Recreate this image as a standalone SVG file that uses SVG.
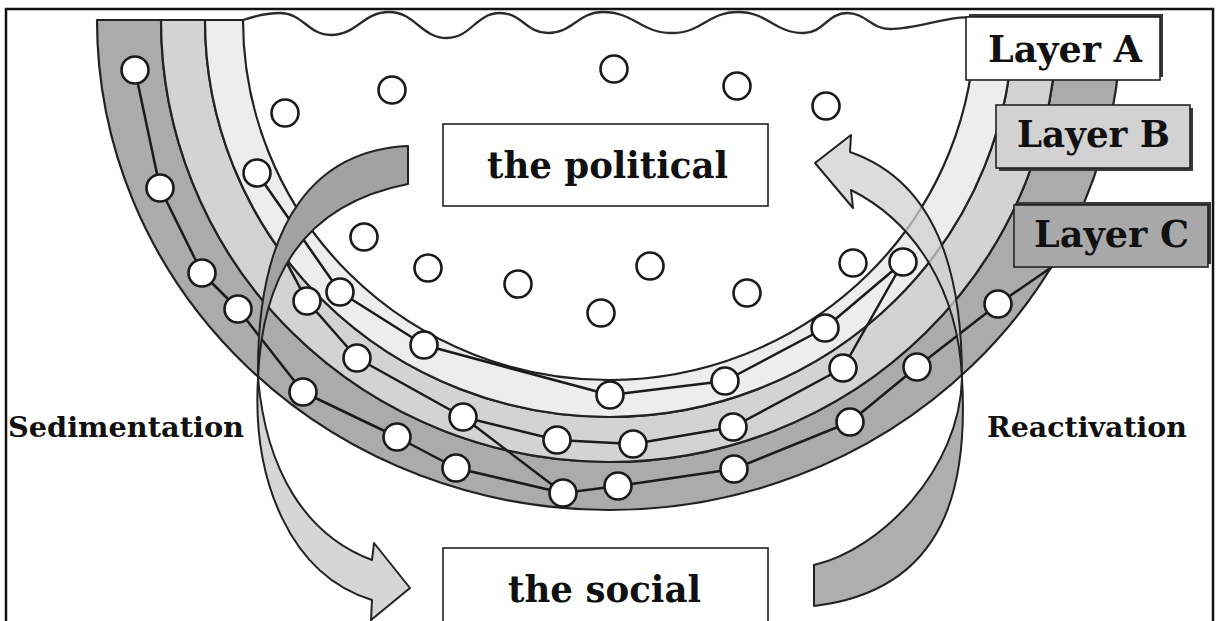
<svg xmlns="http://www.w3.org/2000/svg" width="1219" height="621" viewBox="0 0 1219 621">
<style>
.band{stroke:#222;stroke-width:2.2;stroke-linejoin:round}
.chain{fill:none;stroke:#1a1a1a;stroke-width:2.5;stroke-linejoin:round}
.dot{fill:#fff;stroke:#1a1a1a;stroke-width:2.6}
.arrow{stroke:#222;stroke-width:2;stroke-linejoin:round}
.box{stroke:#222;stroke-width:1.6}
.shadow{fill:#3a3a3a}
.lbl{font-family:"DejaVu Serif","Liberation Serif",serif;font-weight:bold;fill:#111}
</style>
<rect x="0" y="0" width="1219" height="621" fill="#fff"/>
<rect x="6" y="9" width="1207" height="630" fill="none" stroke="#111" stroke-width="2.5"/>

<g id="bands">
<path id="layerC-band" class="band" fill="#ababab" d="M97,20 A512,490 0 0 0 1121,20 L1057,20 A448,442 0 0 1 161,20 Z"/>
<path id="layerB-band" class="band" fill="#d3d3d3" d="M161,20 A448,442 0 0 0 1057,20 L1013,20 A404,397 0 0 1 205,20 Z"/>
<path id="layerA-band" class="band" fill="#ededed" d="M205,20 A404,397 0 0 0 1013,20 L975,20 A366,360 0 0 1 243,20 Z"/>
</g>

<g id="surface">
<path fill="none" stroke="#2a2a2a" stroke-width="2.3" d="M243,20 C258,15 268,13 280,13 C303,13 308,35 331,35 C357,35 363,12 389,12 C415,12 421,38 447,38 C471,38 476,13 500,13 C522,13 526,33 548,33 C573,33 578,12 603,12 C634,12 641,33 672,33 C702,33 708,12 738,12 C768,12 774,33 804,33 C823,33 828,13 847,13 C866,13 871,29 890,29 C920,29 950,14 975,18"/>
</g>

<g id="chains">
<polyline class="chain" points="135,70 160,188 202,273 238,309 303,392 397,437 456,468 563,493 618,486 734,469 850,422 917,367 998,304 1065,258"/>
<polyline class="chain" points="280,250 307,301 357,358 463,417 557,440 633,444 733,427 843,368 903,262"/>
<polyline class="chain" points="257,173 340,292 424,345 610,395 725,381 825,328 903,262"/>
<line class="chain" x1="463" y1="417" x2="563" y2="493"/>
</g>

<g id="connectors">
<path id="sedimentation-upper" class="arrow" fill="#a2a2a2" d="M408,146 C320,150 256,215 258,378 C262,280 300,205 408,184 Z"/>
<path id="sedimentation-lower" class="arrow" fill="#cfcfcf" fill-opacity="0.85" d="M258,378 C266,470 305,535 372,560 L374,543 L410,588 L371,620 L372,600 C290,575 252,480 258,378 Z"/>
<path id="reactivation-lower" class="arrow" fill="#a0a0a0" fill-opacity="0.85" d="M814,565 C880,550 960,470 962,378 C968,480 950,590 814,606 Z"/>
<path id="reactivation-upper" class="arrow" fill="#d0d0d0" fill-opacity="0.75" d="M962,378 C962,290 945,185 850,152 L851,135 L815,163 L853,208 L851,190 C915,222 958,290 962,378 Z"/>
</g>

<g id="elements">
<circle class="dot" cx="285" cy="113" r="13.5"/>
<circle class="dot" cx="392" cy="90" r="13.5"/>
<circle class="dot" cx="614" cy="69" r="13.5"/>
<circle class="dot" cx="737" cy="86" r="13.5"/>
<circle class="dot" cx="826" cy="106" r="13.5"/>
<circle class="dot" cx="364" cy="237" r="13.5"/>
<circle class="dot" cx="428" cy="268" r="13.5"/>
<circle class="dot" cx="518" cy="284" r="13.5"/>
<circle class="dot" cx="650" cy="266" r="13.5"/>
<circle class="dot" cx="601" cy="313" r="13.5"/>
<circle class="dot" cx="747" cy="293" r="13.5"/>
<circle class="dot" cx="853" cy="263" r="13.5"/>

<circle class="dot" cx="135" cy="70" r="13.5"/>
<circle class="dot" cx="160" cy="188" r="13.5"/>
<circle class="dot" cx="202" cy="273" r="13.5"/>
<circle class="dot" cx="238" cy="309" r="13.5"/>
<circle class="dot" cx="303" cy="392" r="13.5"/>
<circle class="dot" cx="397" cy="437" r="13.5"/>
<circle class="dot" cx="456" cy="468" r="13.5"/>
<circle class="dot" cx="563" cy="493" r="13.5"/>
<circle class="dot" cx="618" cy="486" r="13.5"/>
<circle class="dot" cx="734" cy="469" r="13.5"/>
<circle class="dot" cx="850" cy="422" r="13.5"/>
<circle class="dot" cx="917" cy="367" r="13.5"/>
<circle class="dot" cx="998" cy="304" r="13.5"/>

<circle class="dot" cx="307" cy="301" r="13.5"/>
<circle class="dot" cx="357" cy="358" r="13.5"/>
<circle class="dot" cx="463" cy="417" r="13.5"/>
<circle class="dot" cx="557" cy="440" r="13.5"/>
<circle class="dot" cx="633" cy="444" r="13.5"/>
<circle class="dot" cx="733" cy="427" r="13.5"/>
<circle class="dot" cx="843" cy="368" r="13.5"/>

<circle class="dot" cx="257" cy="173" r="13.5"/>
<circle class="dot" cx="340" cy="292" r="13.5"/>
<circle class="dot" cx="424" cy="345" r="13.5"/>
<circle class="dot" cx="610" cy="395" r="13.5"/>
<circle class="dot" cx="725" cy="381" r="13.5"/>
<circle class="dot" cx="825" cy="328" r="13.5"/>
<circle class="dot" cx="903" cy="262" r="13.5"/>
</g>

<g id="layer-a">
<rect class="shadow" x="969" y="14" width="194" height="63"/>
<rect class="box" x="966" y="17" width="194" height="63" fill="#fff"/>
<text class="lbl" x="988" y="62" font-size="37" textLength="154" lengthAdjust="spacingAndGlyphs">Layer A</text>
</g>
<g id="layer-b">
<rect class="shadow" x="999" y="108" width="194" height="63"/>
<rect class="box" x="996" y="105" width="194" height="63" fill="#d2d2d2"/>
<text class="lbl" x="1017" y="147" font-size="37" textLength="153" lengthAdjust="spacingAndGlyphs">Layer B</text>
</g>
<g id="layer-c">
<rect class="shadow" x="1017" y="202" width="194" height="62"/>
<rect class="box" x="1014" y="205" width="194" height="62" fill="#a9a9a9"/>
<text class="lbl" x="1034" y="247" font-size="37" textLength="155" lengthAdjust="spacingAndGlyphs">Layer C</text>
</g>

<g id="the-political">
<rect class="box" x="443" y="124" width="325" height="82" fill="#fff"/>
<text class="lbl" x="487" y="178" font-size="37" textLength="241" lengthAdjust="spacingAndGlyphs">the political</text>
</g>
<g id="the-social">
<rect class="box" x="443" y="548" width="325" height="90" fill="#fff"/>
<text class="lbl" x="508" y="602" font-size="37" textLength="193" lengthAdjust="spacingAndGlyphs">the social</text>
</g>
<g id="sedimentation-label">
<text class="lbl" x="8" y="437" font-size="28" textLength="236" lengthAdjust="spacingAndGlyphs">Sedimentation</text>
</g>
<g id="reactivation-label">
<text class="lbl" x="987" y="437" font-size="28" textLength="200" lengthAdjust="spacingAndGlyphs">Reactivation</text>
</g>
</svg>
